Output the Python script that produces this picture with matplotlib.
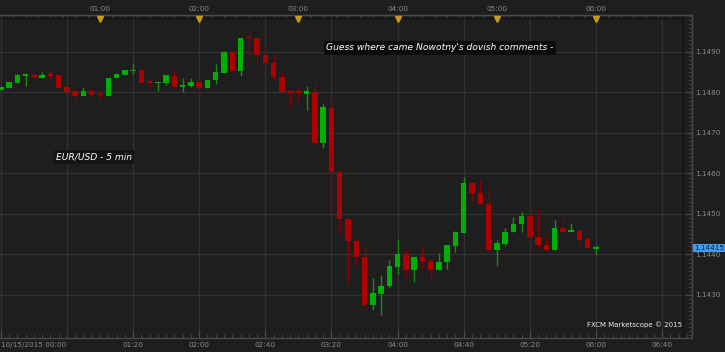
import matplotlib
matplotlib.use('Agg')
import matplotlib.pyplot as plt
import numpy as np
from matplotlib.patches import Rectangle
from matplotlib.ticker import MultipleLocator, FixedLocator

# ---------------- data (EUR/USD 5-min candles, 10/15/2015 from 00:00) -------------
opens = [1.14806, 1.14812, 1.14824, 1.14842, 1.14842, 1.14837, 1.14844, 1.14843, 1.14813, 1.14804,
         1.14792, 1.14803, 1.14796, 1.14792, 1.14837, 1.14844, 1.14854, 1.14856, 1.14826, 1.14823,
         1.14824, 1.14841, 1.14815, 1.14816, 1.14826, 1.14810, 1.14830, 1.14848, 1.14900, 1.14853,
         1.14936, 1.14935, 1.14893, 1.14872, 1.14838, 1.14801, 1.14801, 1.14797, 1.14802, 1.14676,
         1.14762, 1.14604, 1.14487, 1.14433, 1.14393, 1.14275, 1.14303, 1.14321, 1.14370, 1.14402,
         1.14362, 1.14394, 1.14385, 1.14362, 1.14382, 1.14422, 1.14454, 1.14576, 1.14552, 1.14525,
         1.14411, 1.14426, 1.14455, 1.14475, 1.14496, 1.14442, 1.14423, 1.14411, 1.14465, 1.14455,
         1.14459, 1.14438, 1.14415]
highs = [1.14813, 1.14826, 1.14846, 1.14843, 1.14842, 1.14851, 1.14852, 1.14843, 1.14819, 1.14804,
         1.14813, 1.14810, 1.14805, 1.14837, 1.14846, 1.14856, 1.14873, 1.14856, 1.14832, 1.14826,
         1.14842, 1.14855, 1.14835, 1.14835, 1.14835, 1.14830, 1.14870, 1.14902, 1.14900, 1.14935,
         1.14946, 1.14935, 1.14916, 1.14892, 1.14851, 1.14801, 1.14810, 1.14816, 1.14821, 1.14772,
         1.14792, 1.14610, 1.14487, 1.14433, 1.14426, 1.14342, 1.14349, 1.14386, 1.14438, 1.14413,
         1.14394, 1.14417, 1.14391, 1.14404, 1.14423, 1.14458, 1.14592, 1.14576, 1.14584, 1.14562,
         1.14435, 1.14465, 1.14493, 1.14506, 1.14500, 1.14512, 1.14446, 1.14485, 1.14491, 1.14478,
         1.14466, 1.14443, 1.14423]
lows = [1.14806, 1.14812, 1.14824, 1.14816, 1.14835, 1.14837, 1.14836, 1.14812, 1.14802, 1.14781,
        1.14792, 1.14794, 1.14785, 1.14792, 1.14837, 1.14844, 1.14846, 1.14824, 1.14814, 1.14804,
        1.14818, 1.14811, 1.14802, 1.14813, 1.14796, 1.14810, 1.14820, 1.14848, 1.14853, 1.14840,
        1.14893, 1.14872, 1.14862, 1.14831, 1.14800, 1.14763, 1.14777, 1.14757, 1.14670, 1.14664,
        1.14502, 1.14450, 1.14329, 1.14373, 1.14273, 1.14263, 1.14251, 1.14317, 1.14352, 1.14345,
        1.14333, 1.14363, 1.14335, 1.14362, 1.14365, 1.14405, 1.14454, 1.14532, 1.14525, 1.14403,
        1.14372, 1.14421, 1.14455, 1.14456, 1.14442, 1.14413, 1.14411, 1.14411, 1.14451, 1.14455,
        1.14426, 1.14415, 1.14399]
closes = [1.14813, 1.14826, 1.14842, 1.14843, 1.14838, 1.14844, 1.14843, 1.14812, 1.14802, 1.14792,
          1.14803, 1.14794, 1.14795, 1.14837, 1.14846, 1.14856, 1.14855, 1.14824, 1.14825, 1.14826,
          1.14842, 1.14814, 1.14817, 1.14826, 1.14810, 1.14830, 1.14850, 1.14900, 1.14853, 1.14935,
          1.14935, 1.14893, 1.14872, 1.14838, 1.14800, 1.14800, 1.14800, 1.14803, 1.14676, 1.14763,
          1.14604, 1.14487, 1.14433, 1.14393, 1.14275, 1.14304, 1.14321, 1.14372, 1.14402, 1.14362,
          1.14394, 1.14384, 1.14362, 1.14382, 1.14423, 1.14455, 1.14577, 1.14553, 1.14525, 1.14411,
          1.14428, 1.14456, 1.14476, 1.14496, 1.14442, 1.14423, 1.14411, 1.14465, 1.14455, 1.14460,
          1.14437, 1.14415, 1.14416]
minutes = np.arange(len(opens)) * 5          # candle times, minutes after 00:00

top_tick_minutes = [60, 120, 180, 240, 300, 360]
top_tick_labels = ['01:00', '02:00', '03:00', '04:00', '05:00', '06:00']
bottom_tick_minutes = [0, 80, 120, 160, 200, 240, 280, 320, 360, 400]
bottom_tick_labels = ['10/15/2015 00:00', '01:20', '02:00', '02:40', '03:20', '04:00',
                      '04:40', '05:20', '06:00', '06:40']
price_ticks = [1.1430, 1.1440, 1.1450, 1.1460, 1.1470, 1.1480, 1.1490]
last_price = 1.14415
title_note = "Guess where came Nowotny's dovish comments -"
symbol_note = "EUR/USD - 5 min"
credit = "FXCM Marketscope \u00a9 2015"

# ---------------- figure --------------------------------------------------------
W, H = 725, 352
BG = '#1e1e1e'
fig = plt.figure(figsize=(W / 100, H / 100), dpi=100)
fig.patch.set_facecolor(BG)

top_px, bot_px, right_px = 15, 338, 692
ax = fig.add_axes([0, (H - bot_px) / H, right_px / W, (bot_px - top_px) / H])
ax.set_facecolor(BG)

px_per_min = 1.6533
px_per_price = 40500.0
x0 = -0.5
ax.set_xlim(x0, x0 + right_px / px_per_min)
y_top = 1.1490 + (52 - top_px) / px_per_price
y_bot = 1.1490 - (bot_px - 52) / px_per_price
ax.set_ylim(y_bot, y_top)

# grid
for p in price_ticks:
    ax.axhline(p, color='#313131', lw=1.0, zorder=0)
for m in range(0, 420, 40):
    ax.axvline(m, color='#313131', lw=1.0, zorder=0)

# inner darker box lines
ax.axvline(x0 + 683 / px_per_min, color='#121212', lw=1.0, zorder=0.5)
ax.axhline(1.1490 + (52 - 18) / px_per_price, xmax=683 / right_px, color='#121212', lw=1.0, zorder=0.5)

# candles
green_body, green_wick = '#00b000', '#1c8a1c'
red_body, red_wick = '#ad0000', '#8a0000'
bw = 3.3
min_h = 1.6 / px_per_price
for t, o, h, l, c in zip(minutes, opens, highs, lows, closes):
    up = c >= o
    bcol = green_body if up else red_body
    wcol = green_wick if up else red_wick
    ax.vlines(t, l, h, color=wcol, lw=1.0, zorder=2)
    bottom = min(o, c)
    height = max(abs(c - o), min_h)
    if abs(c - o) < min_h:
        bottom = (o + c) / 2 - min_h / 2
    ax.add_patch(Rectangle((t - bw / 2, bottom), bw, height, facecolor=bcol,
                           edgecolor='none', zorder=3))

# spines
for s in ['left']:
    ax.spines[s].set_visible(False)
for s in ['top', 'right', 'bottom']:
    ax.spines[s].set_color('#4a4a4a')
    ax.spines[s].set_linewidth(1.0)

lab_col = '#8a8a8a'
# right price axis
ax.yaxis.tick_right()
ax.yaxis.set_major_locator(FixedLocator(price_ticks))
ax.yaxis.set_minor_locator(MultipleLocator(0.0001))
ax.set_yticklabels(['%.4f' % p for p in price_ticks])
ax.tick_params(axis='y', which='major', direction='in', length=4, color='#4a4a4a',
               labelcolor=lab_col, labelsize=5.2, pad=2)
ax.tick_params(axis='y', which='minor', direction='in', length=2, color='#4a4a4a')

# bottom time axis
ax.xaxis.set_major_locator(FixedLocator(bottom_tick_minutes))
ax.set_xticklabels(bottom_tick_labels)
ax.xaxis.set_minor_locator(MultipleLocator(5))
ax.tick_params(axis='x', which='major', direction='in', length=6, color='#4a4a4a',
               labelcolor=lab_col, labelsize=5.2, pad=3)
ax.tick_params(axis='x', which='minor', direction='in', length=3, color='#4a4a4a')
ax.get_xticklabels()[0].set_horizontalalignment('left')

# top time axis
sec = ax.secondary_xaxis('top')
sec.set_xticks(top_tick_minutes)
sec.set_xticklabels(top_tick_labels)
sec.xaxis.set_minor_locator(MultipleLocator(7.5))
sec.tick_params(axis='x', which='major', direction='in', length=4, color='#4a4a4a',
                labelcolor=lab_col, labelsize=5.2, pad=2)
sec.tick_params(axis='x', which='minor', direction='in', length=2.5, color='#4a4a4a')
sec.spines['top'].set_color('#4a4a4a')

# hour markers (orange triangles)
tri_y = 1.1490 + (52 - 19.5) / px_per_price
ax.plot(top_tick_minutes, [tri_y] * len(top_tick_minutes), linestyle='none', marker='v',
        markersize=4.5, color='#c99a16', zorder=5, clip_on=False)

# annotations
ax.text(x0 + 326 / px_per_min, 1.1490 + (52 - 48) / px_per_price, title_note,
        color='white', fontsize=6.6, style='italic', va='center', ha='left', zorder=6,
        bbox=dict(boxstyle='square,pad=0.25', facecolor='#0c0c0c', edgecolor='none'))
ax.text(x0 + 56 / px_per_min, 1.1490 + (52 - 157) / px_per_price, symbol_note,
        color='white', fontsize=6.6, style='italic', va='center', ha='left', zorder=6,
        bbox=dict(boxstyle='square,pad=0.25', facecolor='#141414', edgecolor='none'))
ax.text(x0 + 682 / px_per_min, 1.1490 + (52 - 325) / px_per_price, credit,
        color='#e8e8e8', fontsize=5.0, va='center', ha='right', zorder=6)

# last price tag
fig.text(694 / W, 1 - 248 / H, '%.5f' % last_price, color='#0b2036', fontsize=5.2,
         va='center', ha='left',
         bbox=dict(boxstyle='square,pad=0.18', facecolor='#3d9df2', edgecolor='none'))

fig.savefig('out.png', dpi=100, facecolor=BG)
